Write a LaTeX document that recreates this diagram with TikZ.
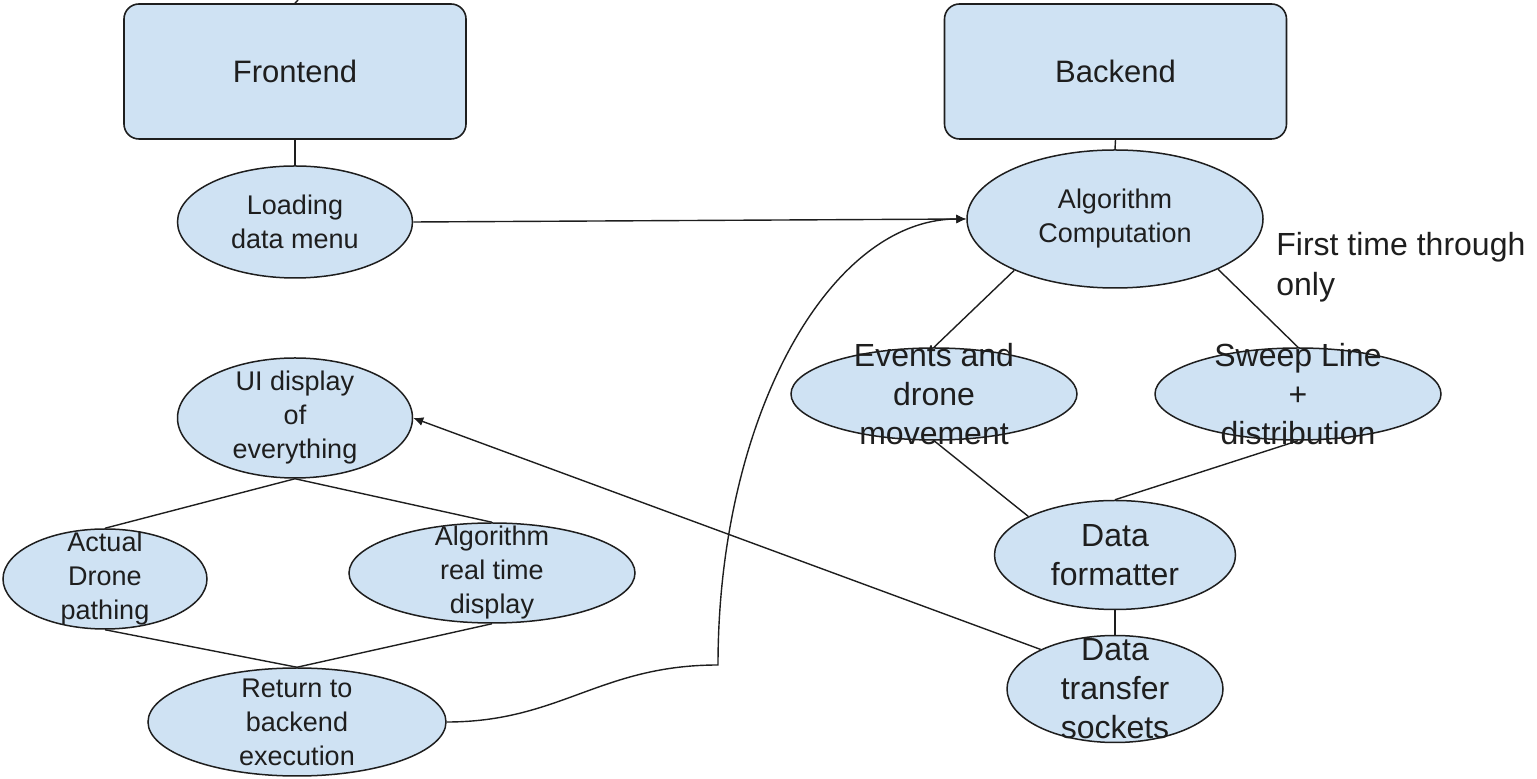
\documentclass[tikz,border=0pt]{standalone}
\usepackage{fontspec}
\setmainfont{Liberation Sans}
\usepackage{xcolor}
\usetikzlibrary{arrows.meta,shapes.geometric}
\definecolor{paleblue}{HTML}{CFE2F3}
\definecolor{ink}{HTML}{1E1E1E}
\newcommand{\boxfont}{\fontsize{15.5}{18}\selectfont}
\newcommand{\ovalfont}{\fontsize{13.5}{17}\selectfont}
\newcommand{\bigovalfont}{\fontsize{16}{19.5}\selectfont}

\begin{document}
\begin{tikzpicture}[x=0.5pt,y=-0.5pt,
  block/.style={draw=ink,line width=0.8pt,fill=paleblue,rounded corners=7.5pt,minimum width=171pt,minimum height=67.5pt,font=\boxfont,text=ink},
  oval/.style={ellipse,draw=ink,line width=0.75pt,fill=paleblue,inner sep=0pt},
  ovaltext/.style={align=center,font=\ovalfont,text=ink,inner sep=0pt},
  bigovaltext/.style={align=center,font=\bigovalfont,text=ink,inner sep=0pt},
  link/.style={draw=ink,line width=0.7pt},
  flow/.style={link,-{Latex[length=5pt,width=4.5pt]}}]
  \useasboundingbox (0,0) rectangle (1537,779);
  % the two halves
  \node[block] (front) at (295,71.5) {Frontend};
  \node[block] (back) at (1115.5,71.5) {Backend};
  % frontend side
  \node[oval,minimum width=117.5pt,minimum height=56pt,label={[ovaltext]center:Loading\\data menu}] (load) at (295,222) {};
  \node[oval,minimum width=117.5pt,minimum height=60pt,label={[ovaltext]center:UI display\\of\\everything}] (ui) at (295,418) {};
  \node[oval,minimum width=102pt,minimum height=50pt,label={[ovaltext]center:Actual\\Drone\\pathing}] (actual) at (105,579) {};
  \node[oval,minimum width=143pt,minimum height=50pt,label={[ovaltext]center:Algorithm\\real time\\display}] (algrt) at (492,573) {};
  \node[oval,minimum width=149pt,minimum height=54pt,label={[ovaltext]center:Return to\\backend\\execution}] (ret) at (297,722) {};
  % backend side
  \node[oval,minimum width=148pt,minimum height=69pt,label={[ovaltext]center:Algorithm\\Computation}] (alg) at (1115,219) {};
  \node[oval,minimum width=143pt,minimum height=46pt,label={[bigovaltext]center:Events and\\drone\\movement}] (events) at (934,394) {};
  \node[oval,minimum width=143pt,minimum height=46pt,label={[bigovaltext]center:Sweep Line\\+\\distribution}] (sweep) at (1298,394) {};
  \node[oval,minimum width=120.5pt,minimum height=54.5pt,label={[bigovaltext]center:Data\\formatter}] (fmt) at (1115,555) {};
  \node[oval,minimum width=108pt,minimum height=53.5pt,label={[bigovaltext]center:Data\\transfer\\sockets}] (xfer) at (1115,689) {};
  \node[align=left,anchor=west,font=\fontsize{16}{20}\selectfont,text=ink,inner sep=0pt] (note) at (1276,267) {First time through\\only};
  % connectors
  \coordinate (cut) at (298,0);
  \draw[link] (cut) -- (front.north);
  \draw[link] (front.south) -- (load.north);
  \draw[link] (back.south) -- (alg.north);
  \draw[flow] (load.east) -- (alg.west);
  \draw[link] (alg.207) -- (events.north);
  \draw[link] (alg.-26) -- (sweep.north);
  \draw[link] (events.south) -- (fmt.156);
  \draw[link] (sweep.south) -- (fmt.north);
  \draw[link] (fmt.south) -- (xfer.north);
  \draw[flow] (xfer.152) -- (ui.east);
  \draw[link] (ui.south) -- (actual.north);
  \draw[link] (ui.south) -- (algrt.north);
  \draw[link] (actual.south) -- (ret.north);
  \draw[link] (algrt.south) -- (ret.north);
  \coordinate (turn) at (718,665);
  \draw[flow] (ret.east) .. controls (560,722) and (600,665) .. (turn)
    .. controls (718,420) and (828,219) .. (alg.west);
\end{tikzpicture}
\end{document}
